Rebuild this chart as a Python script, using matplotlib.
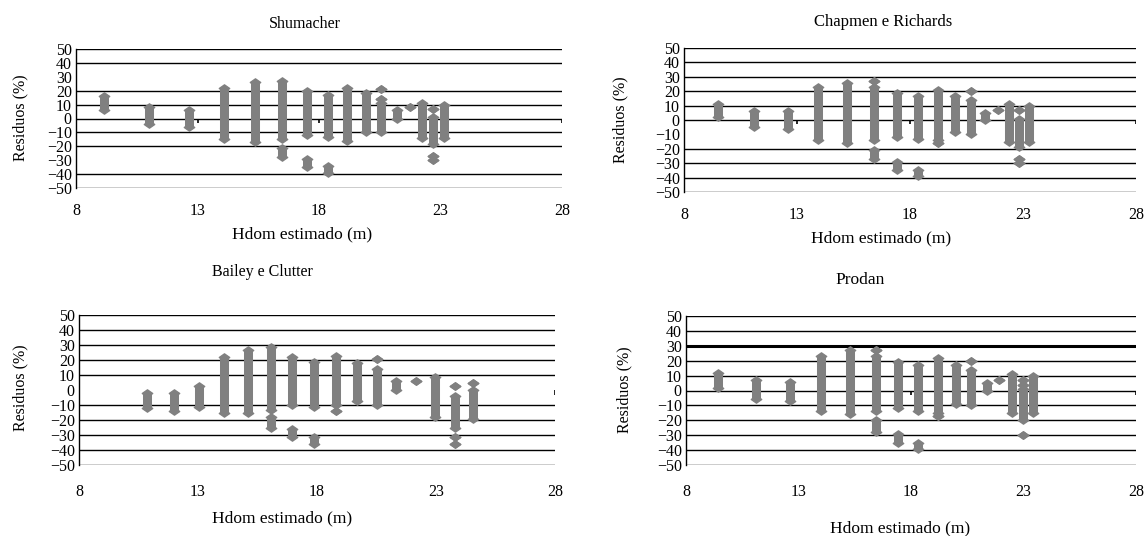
import matplotlib
matplotlib.use('Agg')
import matplotlib.pyplot as plt
from matplotlib.path import Path

plt.rcParams['font.family'] = ['Liberation Serif', 'DejaVu Serif']

# Residuos (%) x Hdom estimado (m); cada coluna = lista de faixas (min, max) de residuos
shu_x = [9.14, 11.0, 12.64, 14.08, 15.36, 16.48, 17.5, 18.38, 19.16, 19.93, 20.55, 21.2, 21.75, 22.25, 22.7, 23.15]
shu_y = [[(6, 16)], [(-4, 8)], [(-6, 6)], [(-15, 22)], [(-17, 26)], [(-15, 27), (-28, -21)],
         [(-12, 20), (-35, -29)], [(-13, 17), (-39, -34)], [(-16, 22)], [(-10, 18)],
         [(-10, 11), (14, 14), (21, 21)], [(0, 6)], [(8, 8)], [(-14, 11)],
         [(-18, 1), (7, 7), (-27, -27), (-30, -30)], [(-14, 10)]]

cha_x = [9.52, 11.11, 12.62, 13.92, 15.23, 16.41, 17.44, 18.37, 19.25, 19.99, 20.7, 21.33, 21.91, 22.39, 22.82, 23.28]
cha_y = [[(2, 11)], [(-5, 6)], [(-6, 6)], [(-14, 23)], [(-16, 26)], [(-14, 23), (27, 27), (-27, -21)],
         [(-12, 19), (-35, -29)], [(-13, 17), (-39, -35)], [(-14, 21), (-16, -16)], [(-8, 17)],
         [(-10, 14), (20, 20)], [(0, 5)], [(7, 7)], [(-15, 11)],
         [(-19, 1), (7, 7), (-27, -27), (-30, -30)], [(-15, 10)]]

bai_x = [10.87, 11.99, 13.04, 14.09, 15.08, 16.05, 16.96, 17.88, 18.78, 19.66, 20.5, 21.34, 22.18, 22.95, 23.79, 24.54]
bai_y = [[(-12, -2)], [(-14, -2)], [(-11, 3)], [(-15, 22)], [(-15, 27)], [(-13, 29), (-25, -18)],
         [(-10, 22), (-31, -26)], [(-11, 19), (-36, -31)], [(-10, 23), (-14, -14)], [(-7, 18)],
         [(-10, 14), (21, 21)], [(0, 6)], [(6, 6)], [(-18, 9)],
         [(-25, -4), (3, 3), (-31, -31), (-36, -36)], [(-19, 0), (5, 5)]]

pro_x = [9.43, 11.13, 12.62, 14.02, 15.31, 16.43, 17.43, 18.32, 19.21, 19.98, 20.65, 21.36, 21.91, 22.47, 22.96, 23.41]
pro_y = [[(2, 12)], [(-6, 7)], [(-7, 6)], [(-14, 23)], [(-16, 27)], [(-14, 23), (27, 27), (-28, -20)],
         [(-12, 19), (-35, -29)], [(-14, 17), (-39, -35)], [(-15, 22), (-17, -17)], [(-9, 17)],
         [(-10, 14), (20, 20)], [(0, 5)], [(7, 7)], [(-15, 11)],
         [(-20, 1), (4, 4), (7, 7), (-30, -30)], [(-15, 10)]]

titles = ['Shumacher', 'Chapmen e Richards', 'Bailey e Clutter', 'Prodan']
xlab = 'Hdom estimado (m)'
ylab = 'Residuos (%)'
xticks = [8, 13, 18, 23, 28]
yticks = list(range(-50, 51, 10))

W, H = 1145, 536
GRAY = '#808080'
diamond = Path([(-1, 0), (0, 0.7), (1, 0), (0, -0.7), (-1, 0)],
               [Path.MOVETO, Path.LINETO, Path.LINETO, Path.LINETO, Path.CLOSEPOLY])

# layout em pixels: (esq, dir, topo, base), titulo, xlabel, ylabel, pad ticks x
panels = [
    dict(x=shu_x, y=shu_y, box=(76, 562, 49, 188), tit=(305, 24), xl=(302, 234), yl=(20, 118), pad=11,
         grid=[50, 40, 20, 10, 0, -10, -20, -40, -50], zt=[13, 18, 23, 28], tsize=11.5),
    dict(x=cha_x, y=cha_y, box=(684, 1136, 48, 192), tit=(883, 22), xl=(881, 238), yl=(620, 120), pad=11,
         grid=[50, 40, 30, 20, 10, 0, -20, -30, -40, -50], zt=[13, 18, 23, 28], tsize=12),
    dict(x=bai_x, y=bai_y, box=(79, 555, 315, 465), tit=(262, 272), xl=(282, 518), yl=(20, 388), pad=14,
         grid=[50, 40, 30, 20, 10, -10, -20, -30, -40, -50], zt=[28], tsize=11.5),
    dict(x=pro_x, y=pro_y, box=(686, 1136, 316, 465), tit=(860, 280), xl=(900, 528), yl=(624, 390), pad=14,
         grid=[50, 40, 20, 10, 0, -10, -20, -30, -40, -50], zt=[18, 28], tsize=12.5),
]

fig = plt.figure(figsize=(W / 100, H / 100), dpi=100)

for p, title in zip(panels, titles):
    l, r, t, b = p['box']
    ax = fig.add_axes([l / W, 1 - b / H, (r - l) / W, (b - t) / H])
    ax.set_xlim(8, 28)
    ax.set_ylim(-50, 50)
    for s in ['top', 'right', 'bottom']:
        ax.spines[s].set_visible(False)
    ax.spines['left'].set_linewidth(1.0)
    for g in p['grid']:
        ax.axhline(g, color='black', lw=1.0, zorder=1)
    if title == 'Prodan':
        ax.axhline(30, color='black', lw=2.2, zorder=1)
    # marcas do eixo x cruzando em 0
    ax.vlines(p['zt'], -3, 0, color='black', lw=1.2, zorder=1)

    for x, segs in zip(p['x'], p['y']):
        for lo, hi in segs:
            if hi > lo:
                ax.vlines(x, lo, hi, color=GRAY, lw=6.5, zorder=3)
            ax.plot([x, x], [lo, hi], ls='none', marker=diamond, ms=7.5,
                    color=GRAY, mec=GRAY, zorder=3)

    ax.set_xticks(xticks)
    ax.set_yticks(yticks)
    ax.tick_params(axis='x', length=0, pad=p['pad'], labelsize=11.5)
    ax.tick_params(axis='y', length=0, pad=3, labelsize=11.5)

    fig.text(p['tit'][0] / W, 1 - p['tit'][1] / H, title, ha='center', va='center', fontsize=p['tsize'])
    fig.text(p['xl'][0] / W, 1 - p['xl'][1] / H, xlab, ha='center', va='center', fontsize=12.5)
    fig.text(p['yl'][0] / W, 1 - p['yl'][1] / H, ylab, ha='center', va='center', rotation=90, fontsize=11.5)

fig.savefig('out.png', dpi=100)
